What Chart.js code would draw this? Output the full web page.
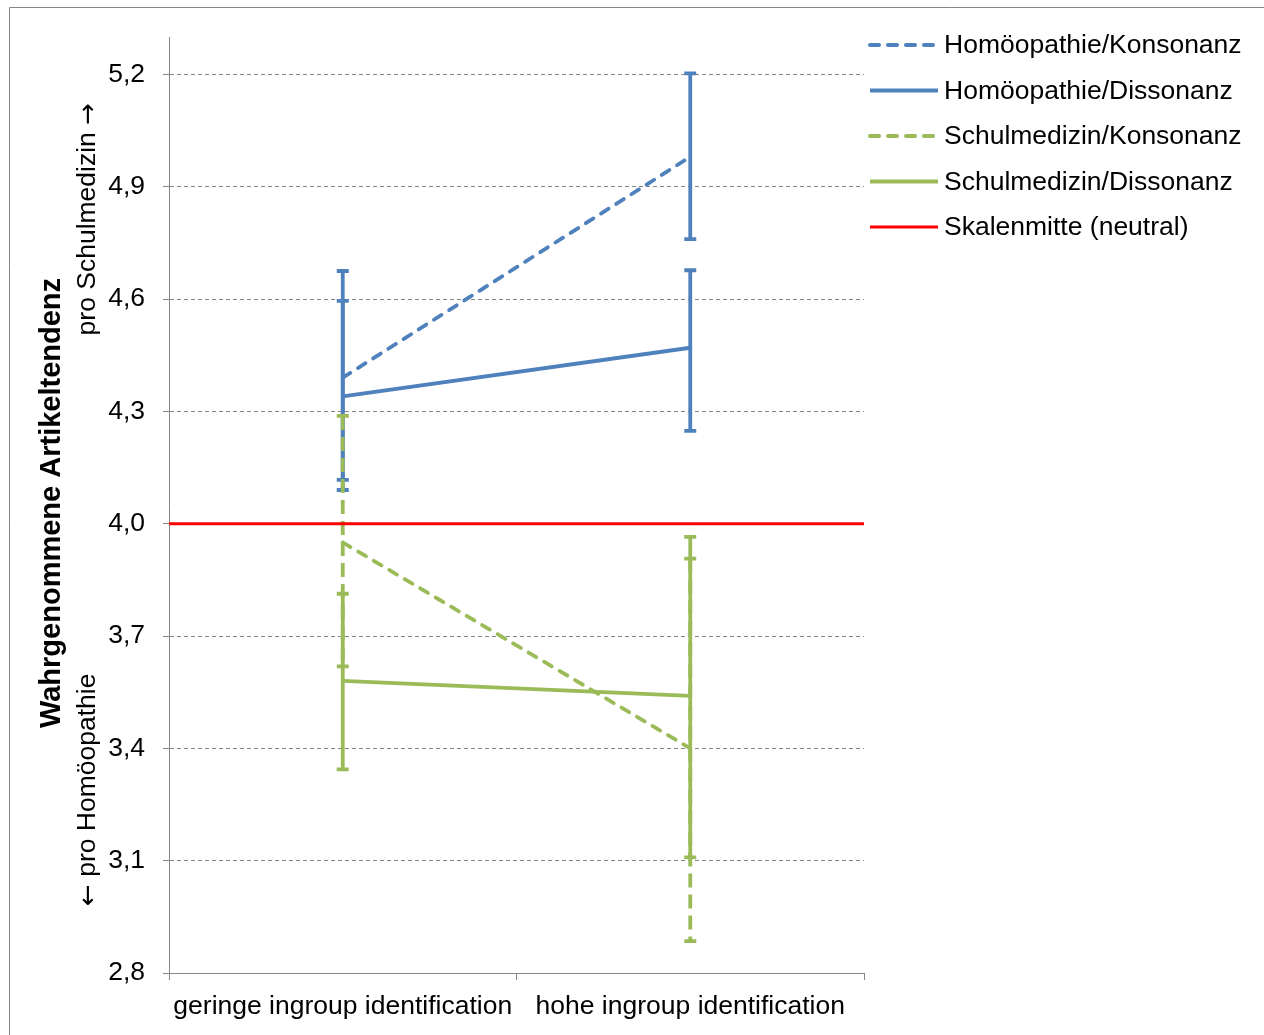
<!DOCTYPE html>
<html>
<head>
<meta charset="utf-8">
<script src="https://cdn.jsdelivr.net/npm/chart.js@4/dist/chart.umd.min.js"></script>
<style>
  body { margin: 0; background: #fff; }
  #wrap { position: relative; width: 1264px; height: 1035px; }
</style>
</head>
<body>
<div id="wrap"><canvas id="chart" width="1264" height="1035"></canvas></div>
<script>
// categories and tick values
const categories = ['geringe ingroup identification', 'hohe ingroup identification'];
const yTicks = [2.8, 3.1, 3.4, 3.7, 4.0, 4.3, 4.6, 4.9, 5.2];
const scaleMiddle = 4.0;

// means per group
const homKonsonanz = [4.39, 4.98];
const homDissonanz = [4.34, 4.47];
const schulKonsonanz = [3.95, 3.40];
const schulDissonanz = [3.58, 3.54];

// error bar ends (low / high)
const homKonsonanzLow = [4.117, 4.76];
const homKonsonanzHigh = [4.595, 5.203];
const homDissonanzLow = [4.09, 4.248];
const homDissonanzHigh = [4.675, 4.677];
const schulKonsonanzLow = [3.619, 2.885];
const schulKonsonanzHigh = [4.288, 3.907];
const schulDissonanzLow = [3.344, 3.109];
const schulDissonanzHigh = [3.813, 3.965];

const BLUE = '#4F81BD';
const GREEN = '#9BBB59';
const RED = '#FF0000';
const GRID = '#868686';
const FONT = '"Liberation Sans", Arial, sans-serif';
const SIZE = 26.5;
const DASH = [9, 9];

function series(label, data, low, high, color, dashed, errDashed) {
  return {
    label: label,
    data: data,
    errLow: low,
    errHigh: high,
    errDash: errDashed ? [14, 7] : [],
    borderColor: color,
    backgroundColor: color,
    borderWidth: 3.8,
    borderDash: dashed ? DASH : [],
    borderCapStyle: dashed ? 'round' : 'butt',
    pointRadius: 0,
    tension: 0,
    fill: false
  };
}

// error bars, scale-middle line, frame, axis title and legend
const extras = {
  id: 'extras',
  beforeDraw(chart) {
    const ctx = chart.ctx;
    ctx.save();
    ctx.fillStyle = '#fff';
    ctx.fillRect(0, 0, chart.width, chart.height);
    ctx.strokeStyle = GRID;
    ctx.lineWidth = 1;
    ctx.beginPath();
    ctx.moveTo(9.5, chart.height);
    ctx.lineTo(9.5, 7.5);
    ctx.lineTo(chart.width, 7.5);
    ctx.stroke();
    ctx.restore();
  },
  afterDatasetsDraw(chart) {
    const ctx = chart.ctx;
    const x = chart.scales.x, y = chart.scales.y;
    const area = chart.chartArea;
    ctx.save();
    chart.data.datasets.forEach(function(ds) {
      ctx.strokeStyle = ds.borderColor;
      ctx.lineWidth = ds.borderWidth;
      ds.data.forEach(function(v, i) {
        const px = x.getPixelForValue(i);
        const top = y.getPixelForValue(ds.errHigh[i]);
        const bot = y.getPixelForValue(ds.errLow[i]);
        ctx.setLineDash(ds.errDash);
        ctx.beginPath();
        ctx.moveTo(px, top);
        ctx.lineTo(px, bot);
        ctx.stroke();
        ctx.setLineDash([]);
        ctx.beginPath();
        ctx.moveTo(px - 6, top);
        ctx.lineTo(px + 6, top);
        ctx.moveTo(px - 6, bot);
        ctx.lineTo(px + 6, bot);
        ctx.stroke();
      });
    });
    // Skalenmitte
    const ym = y.getPixelForValue(scaleMiddle);
    ctx.setLineDash([]);
    ctx.strokeStyle = RED;
    ctx.lineWidth = 3;
    ctx.beginPath();
    ctx.moveTo(area.left, ym);
    ctx.lineTo(area.right, ym);
    ctx.stroke();

    // axis title (rotated)
    ctx.fillStyle = '#000';
    ctx.save();
    ctx.translate(52, 503);
    ctx.rotate(-Math.PI / 2);
    ctx.font = 'bold 29px ' + FONT;
    ctx.textAlign = 'center';
    ctx.textBaseline = 'middle';
    ctx.fillText('Wahrgenommene Artikeltendenz', 0, 0);
    ctx.restore();

    ctx.save();
    ctx.translate(88, 0);
    ctx.rotate(-Math.PI / 2);
    ctx.textBaseline = 'middle';
    ctx.textAlign = 'left';
    const arrowFont = '26px "DejaVu Sans", sans-serif';
    const textFont = SIZE + 'px ' + FONT;
    // lower part: arrow then text, going up from y = 906
    ctx.font = arrowFont;
    ctx.fillText('\u2190', -906, 1);
    const aw = ctx.measureText('\u2190').width;
    ctx.font = textFont;
    ctx.fillText(' pro Homöopathie', -906 + aw, 0);
    // upper part: text then arrow, ending at y = 103
    ctx.font = arrowFont;
    const aw2 = ctx.measureText('\u2192').width;
    ctx.fillText('\u2192', -103 - aw2, 1);
    ctx.font = textFont;
    ctx.textAlign = 'right';
    ctx.fillText('pro Schulmedizin ', -103 - aw2, 0);
    ctx.restore();

    // legend
    const items = chart.data.datasets.map(function(ds) {
      return { label: ds.label, color: ds.borderColor, dash: ds.borderDash, width: 4 };
    });
    items.push({ label: 'Skalenmitte (neutral)', color: RED, dash: [], width: 3 });
    ctx.font = SIZE + 'px ' + FONT;
    ctx.textAlign = 'left';
    ctx.textBaseline = 'middle';
    items.forEach(function(it, i) {
      const ly = 45 + i * 45.5;
      ctx.strokeStyle = it.color;
      ctx.lineWidth = it.width;
      ctx.lineCap = it.dash.length ? 'round' : 'butt';
      ctx.setLineDash(it.dash.length ? [9, 9] : []);
      ctx.beginPath();
      ctx.moveTo(870, ly);
      ctx.lineTo(938, ly);
      ctx.stroke();
      ctx.setLineDash([]);
      ctx.lineCap = 'butt';
      ctx.fillStyle = '#000';
      ctx.fillText(it.label, 944, ly + 1);
    });
    ctx.restore();
  }
};

new Chart(document.getElementById('chart'), {
  type: 'line',
  data: {
    labels: categories,
    datasets: [
      series('Homöopathie/Konsonanz', homKonsonanz, homKonsonanzLow, homKonsonanzHigh, BLUE, true, false),
      series('Homöopathie/Dissonanz', homDissonanz, homDissonanzLow, homDissonanzHigh, BLUE, false, false),
      series('Schulmedizin/Konsonanz', schulKonsonanz, schulKonsonanzLow, schulKonsonanzHigh, GREEN, true, true),
      series('Schulmedizin/Dissonanz', schulDissonanz, schulDissonanzLow, schulDissonanzHigh, GREEN, false, false)
    ]
  },
  options: {
    responsive: false,
    animation: false,
    layout: { padding: { top: 37, right: 400, left: 0, bottom: 0 } },
    plugins: {
      legend: { display: false },
      tooltip: { enabled: false }
    },
    scales: {
      x: {
        offset: true,
        afterFit: function(scale) { scale.height = 62; },
        grid: {
          offset: true,
          drawOnChartArea: false,
          drawTicks: true,
          tickLength: 7,
          color: GRID,
          tickColor: GRID
        },
        border: { display: true, color: GRID, width: 1 },
        ticks: {
          color: '#000',
          font: { family: FONT, size: SIZE },
          padding: 11,
          maxRotation: 0
        }
      },
      y: {
        min: 2.8,
        max: 5.3,
        afterFit: function(scale) { scale.width = 169; },
        afterBuildTicks: function(scale) {
          scale.ticks = yTicks.map(function(v) { return { value: v }; });
        },
        grid: {
          color: GRID,
          lineWidth: 1,
          drawTicks: true,
          tickLength: 6,
          tickColor: GRID
        },
        border: { display: true, color: GRID, width: 1, dash: [4, 3] },
        ticks: {
          color: '#000',
          font: { family: FONT, size: SIZE },
          padding: 18,
          callback: function(v) { return Number(v).toFixed(1).replace('.', ','); }
        }
      }
    }
  },
  plugins: [extras]
});
</script>
</body>
</html>
